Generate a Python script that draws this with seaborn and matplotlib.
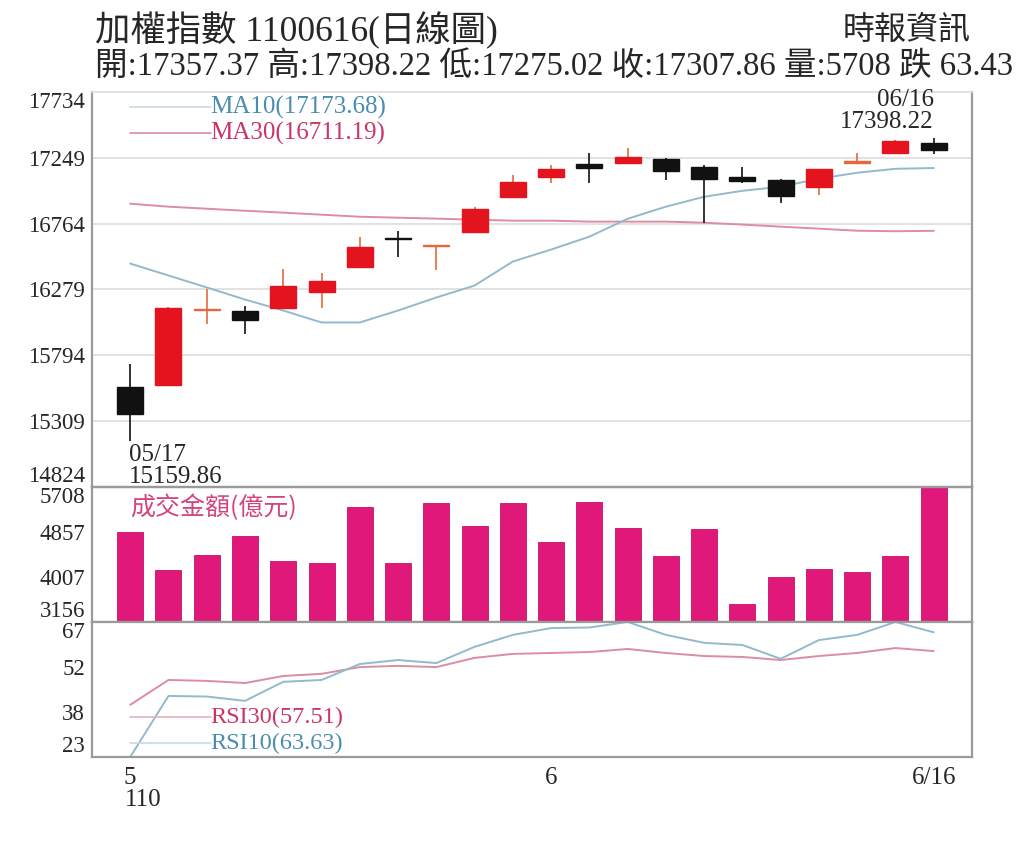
import numpy as np
import pandas as pd
import matplotlib
matplotlib.use("Agg")
import matplotlib.pyplot as plt
import seaborn as sns

# Daily candles 05/17 - 06/16
dates = ["05/17", "05/18", "05/19", "05/20", "05/21", "05/24", "05/25", "05/26", "05/27", "05/28", "05/31",
         "06/01", "06/02", "06/03", "06/04", "06/07", "06/08", "06/09", "06/10", "06/11", "06/15", "06/16"]
opens = [15558, 15573, 16125, 16124, 16146, 16257, 16448, 16660, 16598, 16705, 16962,
         17109, 17205, 17212, 17242, 17183, 17109, 17087, 17036, 17212, 17286, 17357.37]
highs = [15728, 16150, 16279, 16161, 16433, 16404, 16668, 16712, 16606, 16889, 17124,
         17198, 17286, 17322, 17245, 17198, 17183, 17090, 17170, 17286, 17378, 17398.22]
lows = [15159.86, 15565, 16022, 15948, 16140, 16146, 16440, 16521, 16426, 16700, 16958,
        17065, 17065, 17208, 17087, 16771, 17065, 16918, 16977, 17210, 17282, 17275.02]
closes = [15360, 16146, 16135, 16051, 16301, 16338, 16595, 16650, 16604, 16874, 17073,
          17168, 17175, 17256, 17153, 17095, 17080, 16970, 17168, 17227, 17374, 17307.86]
ma10 = [16470, 16382, 16294, 16205, 16124, 16036, 16036, 16124, 16220, 16308, 16485,
        16573, 16668, 16800, 16889, 16962, 17006, 17036, 17095, 17139, 17168, 17173.68]
ma30 = [16911, 16889, 16874, 16859, 16845, 16830, 16815, 16808, 16801, 16793, 16786,
        16786, 16779, 16779, 16779, 16771, 16757, 16742, 16727, 16712, 16708, 16711.19]
volume = [4851, 4146, 4413, 4774, 4317, 4279, 5327, 4279, 5403, 4965, 5403,
          4660, 5422, 4927, 4394, 4908, 3499, 4013, 4165, 4108, 4394, 5708]
rsi10 = [23.0, 42.9, 42.7, 41.3, 47.5, 48.1, 53.3, 54.6, 53.6, 58.9, 62.8,
         65.0, 65.2, 67.0, 62.8, 60.2, 59.5, 55.0, 61.1, 62.8, 67.0, 63.63]
rsi30 = [40.0, 48.1, 47.8, 47.1, 49.4, 50.1, 52.3, 52.7, 52.3, 55.3, 56.6,
         56.9, 57.2, 58.2, 56.9, 55.9, 55.6, 54.6, 55.9, 56.9, 58.5, 57.51]

price_ticks = [14824, 15309, 15794, 16279, 16764, 17249, 17734]
vol_ticks = [3156, 4007, 4857, 5708]
rsi_ticks = [23, 38, 52, 67]
x_labels = {0: "5", 11: "6", 21: "6/16"}

df = pd.DataFrame({"date": dates, "open": opens, "high": highs, "low": lows, "close": closes,
                   "ma10": ma10, "ma30": ma30, "volume": volume, "rsi10": rsi10, "rsi30": rsi30})
df["idx"] = np.arange(len(df))

sns.set_style("white")
plt.rcParams["font.family"] = ["Liberation Serif", "Noto Sans CJK TC"]

RED = "#e3141e"
ORANGE = "#e46a3c"
BLACK = "#111111"
BLUE_LINE = "#93b9cc"
PINK_LINE = "#dc8ca4"
BLUE_TXT = "#4a8db0"
PINK_TXT = "#cc3562"
VOL_COLOR = "#e0187a"
SPINE = "#9a9a9a"

fig = plt.figure(figsize=(10.24, 8.43), dpi=100)
left, width = 0.0898, 0.8594
ax_p = fig.add_axes([left, 0.4223, width, 0.4686])
ax_v = fig.add_axes([left, 0.2622, width, 0.1601])
ax_r = fig.add_axes([left, 0.1020, width, 0.1602])
ax_p.set_zorder(3)
ax_p.patch.set_alpha(0)

# ---- price panel ----
for y in price_ticks[1:-1]:
    ax_p.axhline(y, color="#e2e2e2", lw=1.4, zorder=0)

sns.lineplot(data=df, x="idx", y="ma30", ax=ax_p, color=PINK_LINE, lw=1.4, zorder=2)
sns.lineplot(data=df, x="idx", y="ma10", ax=ax_p, color=BLUE_LINE, lw=1.4, zorder=2)

for _, r in df.iterrows():
    up = r["close"] >= r["open"]
    body = abs(r["close"] - r["open"])
    if up:
        col = ORANGE if body < 20 else RED
        wick = ORANGE
    else:
        col = BLACK
        wick = BLACK
    ax_p.vlines(r["idx"], r["low"], r["high"], color=wick, lw=1.2, zorder=3)
    ax_p.bar(r["idx"], max(body, 6), bottom=min(r["open"], r["close"]), width=0.68,
             color=col, edgecolor=col, linewidth=1.0, zorder=4)

ax_p.set_xlim(-1, 22)
ax_p.set_ylim(price_ticks[0], price_ticks[-1])
ax_p.set_yticks(price_ticks)
ax_p.set_yticklabels([str(t) for t in price_ticks])
ax_p.set_xticks([])
ax_p.set_xlabel("")
ax_p.set_ylabel("")

# MA legend
xt = ax_p.get_xaxis_transform()
ax_p.plot([0, 2.1], [0.962, 0.962], transform=xt, color="#c9d9e2", lw=1.2)
ax_p.plot([0, 2.1], [0.896, 0.896], transform=xt, color=PINK_LINE, lw=1.2)
ax_p.text(2.1, 0.962, f"MA10({ma10[-1]:.2f})", transform=xt, color=BLUE_TXT, fontsize=18, va="center")
ax_p.text(2.1, 0.896, f"MA30({ma30[-1]:.2f})", transform=xt, color=PINK_TXT, fontsize=18, va="center")

# low / high annotations
i_low = int(np.argmin(lows))
i_high = int(np.argmax(highs))
ax_p.annotate(f"{dates[i_low]}\n{lows[i_low]:.2f}", xy=(i_low, lows[i_low]), xytext=(-1, -2),
              textcoords="offset points", ha="left", va="top", fontsize=18, linespacing=1.0,
              annotation_clip=False, zorder=6)
ax_p.annotate(f"{dates[i_high]}\n{highs[i_high]:.2f}", xy=(i_high, highs[i_high]), xytext=(0, 3),
              textcoords="offset points", ha="right", va="bottom", fontsize=18, linespacing=1.0,
              multialignment="right", annotation_clip=False, zorder=6)

# ---- volume panel ----
sns.barplot(data=df, x="idx", y="volume", ax=ax_v, color=VOL_COLOR, saturation=1,
            width=0.68, errorbar=None, edgecolor="#c81068", linewidth=0.6)
ax_v.set_xlim(-1, 22)
ax_v.set_ylim(vol_ticks[0], vol_ticks[-1])
ax_v.set_yticks(np.linspace(vol_ticks[0], vol_ticks[-1], 4))
ax_v.set_yticklabels([str(t) for t in vol_ticks])
ax_v.set_xticks([])
ax_v.set_xlabel("")
ax_v.set_ylabel("")
ax_v.text(0, 0.845, "成交金額(億元)", transform=ax_v.get_xaxis_transform(), color="#d4457c",
          fontsize=18, va="center", ha="left", family=["Noto Sans CJK TC"])

# ---- RSI panel ----
sns.lineplot(data=df, x="idx", y="rsi30", ax=ax_r, color=PINK_LINE, lw=1.4)
sns.lineplot(data=df, x="idx", y="rsi10", ax=ax_r, color=BLUE_LINE, lw=1.4)
ax_r.set_xlim(-1, 22)
ax_r.set_ylim(rsi_ticks[0], rsi_ticks[-1])
ax_r.set_yticks(np.linspace(rsi_ticks[0], rsi_ticks[-1], 4))
ax_r.set_yticklabels([str(t) for t in rsi_ticks])
ax_r.set_xlabel("")
ax_r.set_ylabel("")
xr = ax_r.get_xaxis_transform()
ax_r.plot([0, 2.1], [0.296, 0.296], transform=xr, color="#e6b3c2", lw=1.2)
ax_r.plot([0, 2.1], [0.104, 0.104], transform=xr, color="#c9d9e2", lw=1.2)
ax_r.text(2.1, 0.296, f"RSI30({rsi30[-1]:.2f})", transform=xr, color=PINK_TXT, fontsize=17.5, va="center")
ax_r.text(2.1, 0.104, f"RSI10({rsi10[-1]:.2f})", transform=xr, color=BLUE_TXT, fontsize=17.5, va="center")

ax_r.set_xticks(list(x_labels.keys()))
ax_r.set_xticklabels(list(x_labels.values()))
ax_r.set_xticks(df["idx"], minor=True)
ax_r.tick_params(axis="x", which="both", direction="in", length=3, color="#666666",
                 labelsize=18, pad=7)
ax_r.annotate("110", xy=(0, 0), xycoords=xr, xytext=(-4, -31), textcoords="offset points",
              ha="left", va="center", fontsize=18, annotation_clip=False)

# ---- shared styling ----
for ax in (ax_p, ax_v, ax_r):
    for s in ("left", "right", "bottom", "top"):
        ax.spines[s].set_color(SPINE)
        ax.spines[s].set_linewidth(1.6)
    ax.tick_params(axis="y", direction="out", length=3, color="#777777", labelsize=16.5, pad=2)
    labels = ax.get_yticklabels()
    labels[0].set_va("bottom")
    labels[-1].set_va("top")
ax_p.spines["top"].set_color("#dddddd")
ax_p.spines["top"].set_linewidth(1.2)

# ---- header ----
fig.text(0.093, 0.964, "加權指數 1100616(日線圖)", fontsize=25.5, va="center", ha="left")
fig.text(0.093, 0.921, "開:17357.37 高:17398.22 低:17275.02 收:17307.86 量:5708 跌 63.43",
         fontsize=23.5, va="center", ha="left")
fig.text(0.948, 0.964, "時報資訊", fontsize=23, va="center", ha="right")

fig.savefig("out.png", dpi=100, facecolor="white")
